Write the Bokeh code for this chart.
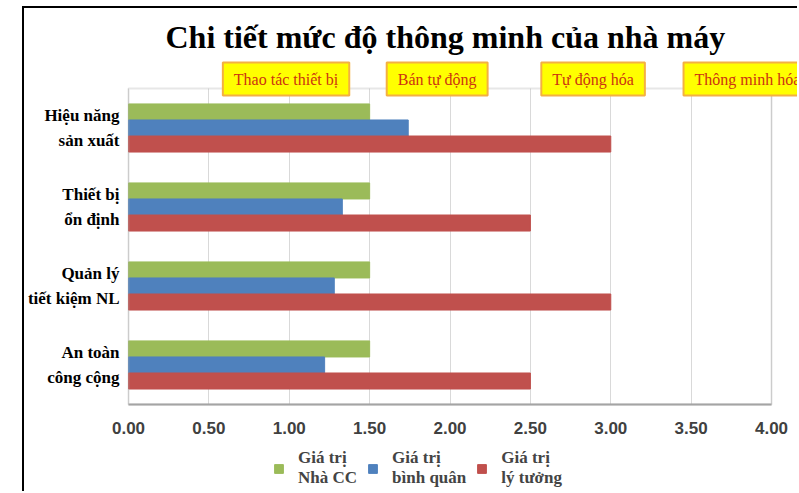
from bokeh.plotting import figure
from bokeh.models import (ColumnDataSource, Label, Legend, LegendItem, BoxAnnotation,
                          FixedTicker, NumeralTickFormatter, Title, Range1d)
from bokeh.embed import file_html
from bokeh.resources import INLINE

# ---------------- data ----------------
categories = ["Hiệu năng\nsản xuất", "Thiết bị\nổn định", "Quản lý\ntiết kiệm NL", "An toàn\ncông cộng"]
nha_cc = [1.5, 1.5, 1.5, 1.5]
binh_quan = [1.74, 1.33, 1.28, 1.22]
ly_tuong = [3.0, 2.5, 3.0, 2.5]
series_labels = ["Giá trị\nNhà CC", "Giá trị\nbình quân", "Giá trị\nlý tưởng"]
x_ticks = [0.0, 0.5, 1.0, 1.5, 2.0, 2.5, 3.0, 3.5, 4.0]
stage_labels = ["Thao tác thiết bị", "Bán tự động", "Tự động hóa", "Thông minh hóa"]
stage_centers = [0.98, 1.92, 2.89, 3.85]

colors = ["#9BBB59", "#4F81BD", "#C0504D"]
SERIF = "Liberation Serif"
X_MAX = 4.0

n = len(categories)
pos = [n - i - 0.5 for i in range(n)]          # category centres, first on top
bh = 0.203
source = ColumnDataSource(dict(
    pos=pos,
    y_green=[v + bh for v in pos],
    y_blue=pos,
    y_red=[v - bh for v in pos],
    nha_cc=nha_cc, binh_quan=binh_quan, ly_tuong=ly_tuong))

p = figure(width=775, height=485, output_backend="svg", toolbar_location=None,
           x_range=Range1d(-0.647, X_MAX + 0.174), y_range=Range1d(-1.127, n + 0.405),
           min_border_left=0, min_border_right=0, min_border_top=48, min_border_bottom=0)
p.margin = (6, 0, 0, 22)
p.styles = {"border-left": "2px solid black", "border-top": "2px solid black"}

r1 = p.hbar(y="y_green", right="nha_cc", left=0, height=bh, color=colors[0], source=source)
r2 = p.hbar(y="y_blue", right="binh_quan", left=0, height=bh, color=colors[1], source=source)
r3 = p.hbar(y="y_red", right="ly_tuong", left=0, height=bh, color=colors[2], source=source)

# title
p.title = Title(text="Chi tiết mức độ thông minh của nhà máy", align="left",
                text_font=SERIF, text_font_style="bold", text_font_size="32px",
                text_color="black", standoff=3, offset=141)

# x axis drawn at value 0 of the y scale, legend underneath it
p.xaxis.fixed_location = 0
p.xaxis.ticker = FixedTicker(ticks=x_ticks)
p.xaxis.bounds = (0, X_MAX)
p.xaxis.formatter = NumeralTickFormatter(format="0.00")
p.xaxis.major_label_text_font = "Liberation Sans"
p.xaxis.major_label_text_font_style = "bold"
p.xaxis.major_label_text_font_size = "17px"
p.xaxis.major_label_text_color = "#404040"
p.xaxis.major_tick_line_color = None
p.xaxis.minor_tick_line_color = None
p.xaxis.axis_line_color = "#a0a0a0"
p.xaxis.axis_line_width = 2
p.xaxis.major_label_standoff = 12

# category axis drawn at value 0 of the x scale
p.yaxis.fixed_location = 0
p.yaxis.bounds = (0, n)
p.yaxis.ticker = FixedTicker(ticks=pos)
p.yaxis.major_label_overrides = {v: c for v, c in zip(pos, categories)}
p.yaxis.major_label_text_font = SERIF
p.yaxis.major_label_text_font_style = "bold"
p.yaxis.major_label_text_font_size = "17px"
p.yaxis.major_label_text_color = "black"
p.yaxis.major_label_text_line_height = 1.28
p.yaxis.major_tick_line_color = None
p.yaxis.minor_tick_line_color = None
p.yaxis.axis_line_color = None
p.yaxis.major_label_standoff = 3

p.xgrid.grid_line_color = "#d9d9d9"
p.ygrid.grid_line_color = None
p.outline_line_color = None
p.background_fill_color = "white"

g = p.xgrid[0]
if "cross_bounds" in g.properties():
    g.cross_bounds = (0, n)
else:
    p.add_layout(BoxAnnotation(bottom=n, fill_color="white", fill_alpha=1.0, line_color=None))
    p.add_layout(BoxAnnotation(top=0, fill_color="white", fill_alpha=1.0, line_color=None,
                               level="underlay"))

# plot-area outline
p.add_layout(BoxAnnotation(left=0, right=X_MAX, bottom=0, top=n, fill_alpha=0,
                           line_color="#b0b0b0", line_width=2))

# stage boxes above the plot area
for txt, cx in zip(stage_labels, stage_centers):
    p.add_layout(Label(x=cx, y=n + 0.12, text=txt, text_align="center", text_baseline="middle",
                       text_font=SERIF, text_font_size="16px", text_color="#CC3311",
                       background_fill_color="#FFFF00", border_line_color="#F4B042",
                       border_line_width=2, padding=(11, 8)))

legend = Legend(items=[LegendItem(label=series_labels[0], renderers=[r1]),
                       LegendItem(label=series_labels[1], renderers=[r2]),
                       LegendItem(label=series_labels[2], renderers=[r3])],
                orientation="horizontal", location=(249, 5),
                label_text_font=SERIF, label_text_font_style="bold", label_text_font_size="17px",
                label_text_line_height=1.45, glyph_width=11, glyph_height=11,
                label_standoff=14, spacing=10, padding=0, margin=0,
                border_line_color=None, background_fill_alpha=0)
p.add_layout(legend, "center")

open("out.html", "w").write(file_html(p, INLINE))
